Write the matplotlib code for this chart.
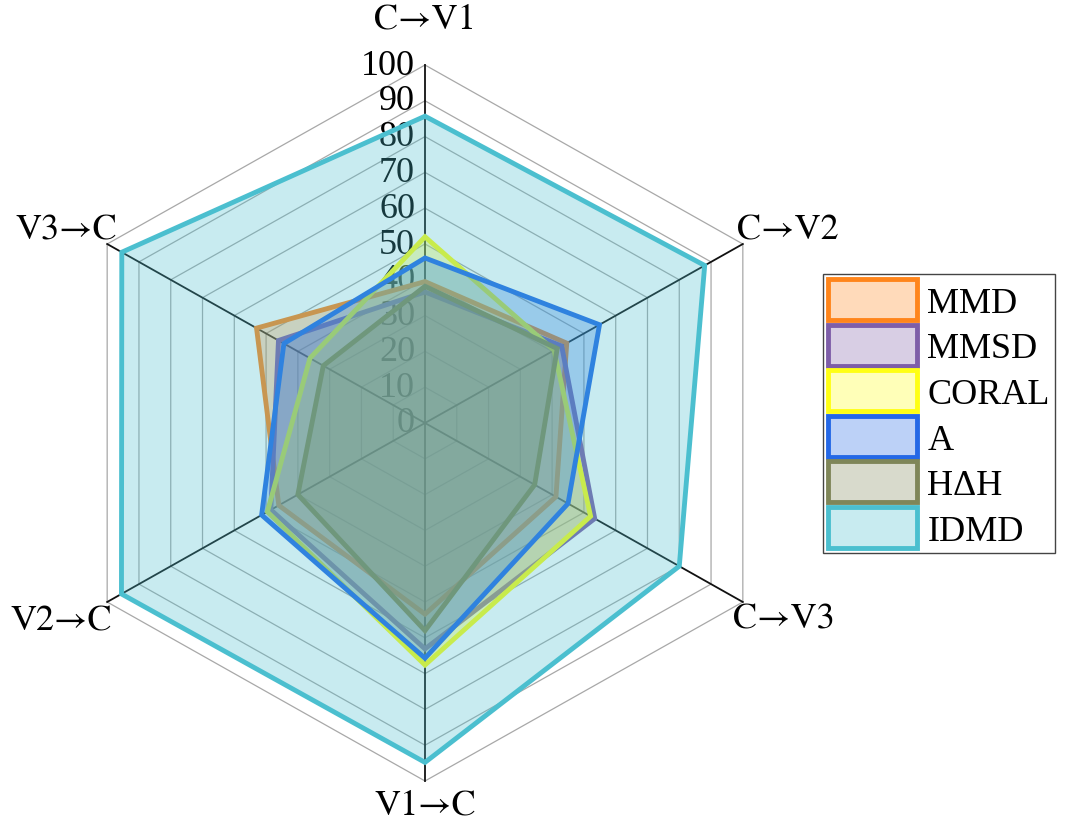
import numpy as np
import matplotlib
matplotlib.use('Agg')
import matplotlib.pyplot as plt

plt.rcParams['font.family'] = ['Liberation Serif', 'DejaVu Serif']

# data (order of axes: clockwise from top)
axis_labels = ['C→V1', 'C→V2', 'C→V3', 'V1→C', 'V2→C', 'V3→C']
methods = ['MMD', 'MMSD', 'CORAL', 'A', 'HΔH', 'IDMD']
mmd = [39.5, 44.6, 41.2, 53.4, 46.0, 53.0]
mmsd = [36.6, 43.0, 53.4, 63.1, 48.5, 46.1]
coral = [52.0, 40.6, 52.1, 67.6, 49.6, 36.2]
a_vals = [46.1, 54.9, 45.0, 65.7, 51.4, 44.4]
hdh = [38.2, 41.6, 34.5, 58.0, 40.0, 32.0]
idmd = [85.7, 88.0, 80.0, 94.8, 95.5, 95.4]
ticks = list(range(0, 101, 10))

colors = ['#ff851b', '#7e5ea8', '#ffff14', '#2468e6', '#7f8659', '#4bbfcf']
series = [mmd, mmsd, coral, a_vals, hdh, idmd]

n = len(axis_labels)
theta = np.deg2rad(90 - 60 * np.arange(n))
ct, st = np.cos(theta), np.sin(theta)

fig = plt.figure(figsize=(10.8, 8.29), dpi=100)
# slightly wider than tall, like the reference
ax = fig.add_axes([21.3 / 1080, 11.2 / 829, 807.4 / 1080, 787.6 / 829])
ax.set_xlim(-110, 110)
ax.set_ylim(-110, 110)
ax.axis('off')

# hexagonal grid
for r in ticks[1:]:
    ax.plot(np.append(r * ct, r * ct[0]), np.append(r * st, r * st[0]),
            color='#a8a8a8', lw=0.9, zorder=1)
for i in range(n):
    ax.plot([0, 100 * ct[i]], [0, 100 * st[i]], color='#111111', lw=1.3, zorder=1)

# radial tick labels (under the fills)
for r in ticks:
    ax.text(-2.7, r, str(r), ha='right', va='center', fontsize=26,
            color='black', zorder=1)

# axis labels (STIX has the long arrow)
label_pos = [(0, 112.8, 'center'), (85.0, 53.9, 'left'), (84.0, -54.7, 'left'),
             (0, -106.7, 'center'), (-85.3, -55.3, 'right'), (-83.9, 53.9, 'right')]
for lab, (lx, ly, ha) in zip(axis_labels, label_pos):
    ax.text(lx, ly, lab, ha=ha, va='center', fontsize=26,
            family=['STIXGeneral', 'Liberation Serif'], clip_on=False)

# polygons
for name, vals, c in zip(methods, series, colors):
    v = np.array(vals)
    xs = np.append(v * ct, v[0] * ct[0])
    ys = np.append(v * st, v[0] * st[0])
    rgba = matplotlib.colors.to_rgba(c, 0.3)
    ax.fill(xs, ys, facecolor=rgba, edgecolor=c, lw=3.5, joinstyle='miter',
            label=name, zorder=3)

leg = ax.legend(loc='upper left', bbox_to_anchor=(823 / 1080, 1 - 275 / 829),
                bbox_transform=fig.transFigure, fontsize=26, fancybox=False,
                edgecolor='#444444', framealpha=1, handlelength=2.44,
                handleheight=1.37, handletextpad=0.3, labelspacing=0.125,
                borderpad=0.15, borderaxespad=0)
leg.get_frame().set_linewidth(1.0)

fig.savefig('out.png', dpi=100)
